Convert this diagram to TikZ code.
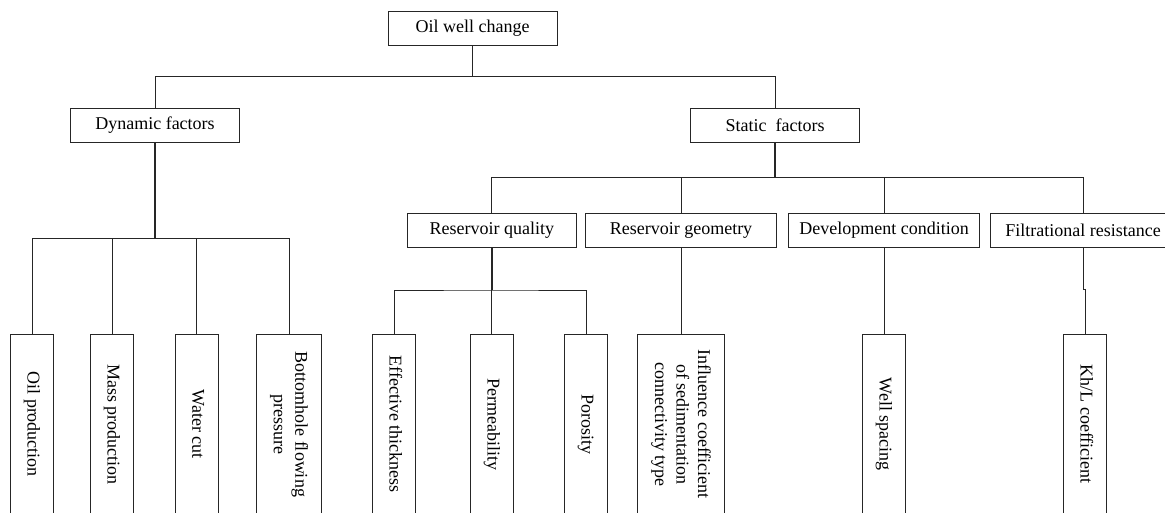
\documentclass[tikz,border=0pt]{standalone}
\usepackage{fontspec}
\setmainfont{Liberation Serif}
\newcommand{\vlabel}[1]{\rotatebox{-90}{\begin{tabular}{@{}c@{}}#1\end{tabular}}}

\begin{document}
\begin{tikzpicture}[x=1pt,y=-1pt]
\tikzstyle{every node}+=[inner sep=1pt, font=\fontsize{18}{21.5}\selectfont]
\tikzstyle{box}=[draw=black!85, line width=0.8pt, text=black, minimum height=34pt]
\tikzstyle{leafbox}=[draw=black!85, line width=0.8pt, text=black, minimum height=179.5pt, minimum width=43.4pt]
\tikzstyle{link}=[black!85, line width=0.8pt]
\tikzstyle{trunk}=[black!85, line width=1.6pt]

\useasboundingbox (0,0) rectangle (1165,512);

\node[box, minimum width=169pt] (root) at (472.5,28) {Oil well change};

\node[box, minimum width=169pt] (dyn) at (155,125.3) {Dynamic factors};
\node[box, minimum width=169pt] (stat) at (775,125.3) {Static~~factors};

\node[box, minimum width=168.6pt] (rq) at (491.8,230) {Reservoir quality};
\node[box, minimum width=191pt] (rg) at (681,230) {Reservoir geometry};
\node[box, minimum width=191pt] (dc) at (884,230) {Development condition};
\node[box, minimum width=186pt] (fr) at (1083,230) {Filtrational resistance};

\node[leafbox] (oil) at (32,424.25) {\vlabel{Oil production}};
\node[leafbox] (mass) at (112,424.25) {\vlabel{Mass production}};
\node[leafbox] (water) at (196.7,424.25) {\vlabel{Water cut}};
\node[leafbox, minimum width=65.4pt] (bhp) at (289,424.25) {\vlabel{Bottomhole flowing\\pressure}};

\node[leafbox] (eff) at (394,424.25) {\vlabel{Effective thickness}};
\node[leafbox] (perm) at (491.8,424.25) {\vlabel{Permeability}};
\node[leafbox] (poro) at (586,424.25) {\vlabel{Porosity}};
\node[leafbox, minimum width=87.6pt] (infl) at (681,424.25) {\vlabel{Influence coefficient\\of sedimentation\\connectivity type}};
\node[leafbox] (well) at (884,424.25) {\vlabel{Well spacing}};
\node[leafbox] (khl) at (1085,424.25) {\vlabel{Kh/L coefficient}};

\coordinate (topbus) at (472.5,76.3);
\coordinate (dynbus) at (155,238.5);
\coordinate (statbus) at (775,177.7);
\coordinate (rqbus) at (491.8,290);

\draw[link] (root.south) -- (topbus);
\draw[link] (dyn.north) |- (topbus) -| (stat.north);

\draw[trunk] (dyn.south) -- (dynbus);
\draw[link] (oil.north) |- (dynbus) -| (bhp.north);
\draw[link] (mass.north) -- (mass.north |- dynbus);
\draw[link] (water.north) -- (water.north |- dynbus);

\draw[trunk] (stat.south) -- (statbus);
\draw[link] (rq.north) |- (statbus) -| (fr.north);
\draw[link] (rg.north) -- (rg.north |- statbus);
\draw[link] (dc.north) -- (dc.north |- statbus);

\draw[trunk] (rq.south) -- (rqbus);
\draw[link] (eff.north) |- (rqbus) -| (poro.north);
\draw[link] (perm.north) -- (perm.north |- rqbus);

\draw[link] (rg.south) -- (infl.north);
\draw[link] (dc.south) -- (well.north);
\draw[link] (fr.south) -- ++(0,42) -| (khl.north);
\end{tikzpicture}
\end{document}
